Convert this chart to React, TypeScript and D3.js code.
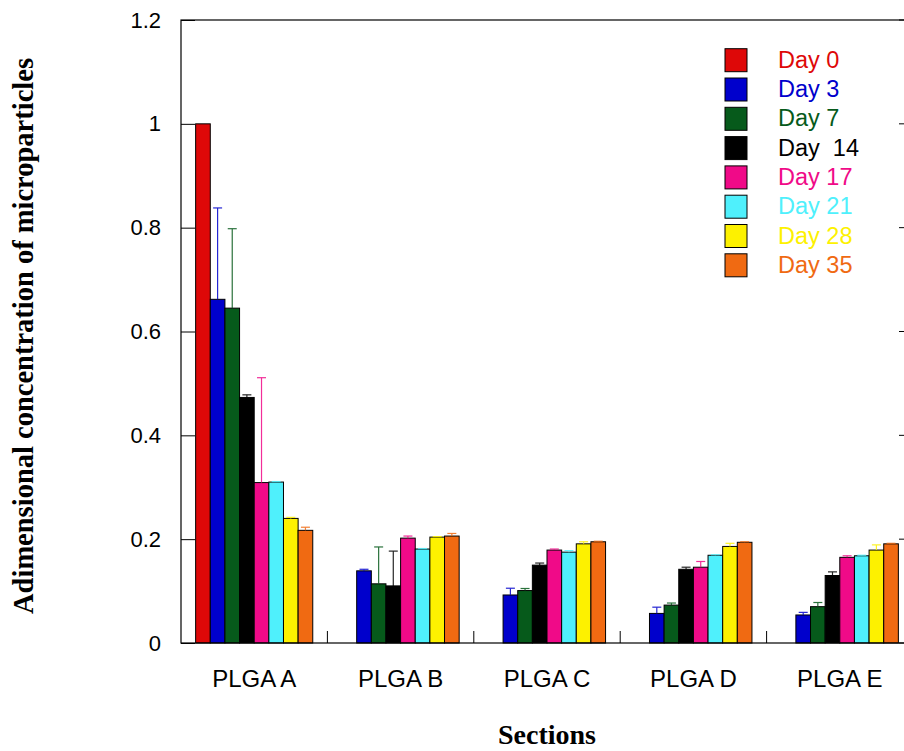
import React, { useEffect, useRef } from 'react';
import * as d3 from 'd3';

// sections on the x axis
const sections = ['PLGA A', 'PLGA B', 'PLGA C', 'PLGA D', 'PLGA E'];

// legend labels (note the double space in "Day  14", as in the original)
const days = ['Day 0', 'Day 3', 'Day 7', 'Day  14', 'Day 17', 'Day 21', 'Day 28', 'Day 35'];
const dayColors = ['#de0808', '#0000cc', '#065a1b', '#000000', '#f00a88', '#4ff0fc', '#fdf100', '#f06a12'];

// bar heights per day, one value per section (null = no bar)
const day0 = [1.0, null, null, null, null];
const day3 = [0.662, 0.139, 0.0925, 0.057, 0.054];
const day7 = [0.645, 0.114, 0.101, 0.073, 0.070];
const day14 = [0.473, 0.110, 0.150, 0.142, 0.130];
const day17 = [0.309, 0.202, 0.179, 0.146, 0.165];
const day21 = [0.310, 0.181, 0.175, 0.169, 0.168];
const day28 = [0.240, 0.204, 0.191, 0.186, 0.179];
const day35 = [0.217, 0.206, 0.195, 0.194, 0.191];

// upper error bar lengths
const err0 = [0, 0, 0, 0, 0];
const err3 = [0.176, 0.003, 0.013, 0.012, 0.005];
const err7 = [0.153, 0.071, 0.004, 0.004, 0.008];
const err14 = [0.005, 0.067, 0.004, 0.004, 0.007];
const err17 = [0.202, 0.004, 0.002, 0.011, 0.003];
const err21 = [0.001, 0.001, 0.003, 0.001, 0.001];
const err28 = [0.002, 0.001, 0.004, 0.006, 0.010];
const err35 = [0.006, 0.005, 0.001, 0.001, 0.001];

const yTicks = [0, 0.2, 0.4, 0.6, 0.8, 1, 1.2];

const App = () => {
  const ref = useRef<SVGSVGElement>(null);

  useEffect(() => {
    const svg = d3.select(ref.current);
    svg.selectAll('*').remove();

    const W = 904, H = 751;
    const left = 181, right = 913, top = 20, bottom = 643;
    const sans = '"Liberation Sans", Arial, sans-serif';
    const serif = '"Liberation Serif", "Times New Roman", serif';

    const values = [day0, day3, day7, day14, day17, day21, day28, day35];
    const errors = [err0, err3, err7, err14, err17, err21, err28, err35];

    const x0 = d3.scaleBand().domain(sections).range([left, right]).paddingInner(0.2).paddingOuter(0.1);
    const x1 = d3.scaleBand().domain(days).range([0, x0.bandwidth()]);
    const y = d3.scaleLinear().domain([0, 1.2]).range([bottom, top]);

    svg.attr('width', W).attr('height', H);

    const bars: { s: string; d: string; v: number; e: number; c: string }[] = [];
    days.forEach((d, i) => {
      sections.forEach((s, j) => {
        const v = values[i][j];
        if (v == null) return;
        bars.push({ s, d, v, e: errors[i][j], c: dayColors[i] });
      });
    });

    // bars
    svg.append('g')
      .selectAll('rect')
      .data(bars)
      .enter()
      .append('rect')
      .attr('x', b => x0(b.s)! + x1(b.d)!)
      .attr('y', b => y(b.v))
      .attr('width', x1.bandwidth())
      .attr('height', b => bottom - y(b.v))
      .attr('fill', b => b.c)
      .attr('stroke', '#000')
      .attr('stroke-width', 1);

    // error bars
    const eb = svg.append('g')
      .selectAll('g')
      .data(bars.filter(b => b.e > 0))
      .enter()
      .append('g')
      .attr('stroke', b => b.c)
      .attr('stroke-width', 1.2)
      .attr('opacity', 0.85);
    eb.append('line')
      .attr('x1', b => x0(b.s)! + x1(b.d)! + x1.bandwidth() / 2)
      .attr('x2', b => x0(b.s)! + x1(b.d)! + x1.bandwidth() / 2)
      .attr('y1', b => y(b.v))
      .attr('y2', b => y(b.v + b.e));
    eb.append('line')
      .attr('x1', b => x0(b.s)! + x1(b.d)! + x1.bandwidth() / 2 - 4.5)
      .attr('x2', b => x0(b.s)! + x1(b.d)! + x1.bandwidth() / 2 + 4.5)
      .attr('y1', b => y(b.v + b.e))
      .attr('y2', b => y(b.v + b.e));

    // frame
    svg.append('rect')
      .attr('x', left).attr('y', top)
      .attr('width', right - left).attr('height', bottom - top)
      .attr('fill', 'none').attr('stroke', '#000').attr('stroke-width', 1.2);

    // left axis, ticks inward
    const yAxis = svg.append('g')
      .attr('transform', `translate(${left},0)`)
      .call(d3.axisLeft(y).tickValues(yTicks).tickSizeInner(-14).tickSizeOuter(0).tickPadding(20).tickFormat(d3.format('~g')));
    yAxis.select('.domain').remove();
    yAxis.selectAll('text').attr('font-size', 22).attr('font-family', sans).attr('fill', '#000');

    // right-side inward ticks
    svg.append('g')
      .selectAll('line')
      .data(yTicks)
      .enter()
      .append('line')
      .attr('x1', right).attr('x2', right - 14)
      .attr('y1', d => y(d)).attr('y2', d => y(d))
      .attr('stroke', '#000');

    // bottom ticks between sections
    svg.append('g')
      .selectAll('line')
      .data(sections.slice(1))
      .enter()
      .append('line')
      .attr('x1', s => x0(s)! - x0.step() * 0.1)
      .attr('x2', s => x0(s)! - x0.step() * 0.1)
      .attr('y1', bottom).attr('y2', bottom - 12)
      .attr('stroke', '#000');

    // section labels
    svg.append('g')
      .selectAll('text')
      .data(sections)
      .enter()
      .append('text')
      .attr('x', s => x0(s)! + x0.bandwidth() / 2)
      .attr('y', 687)
      .attr('text-anchor', 'middle')
      .attr('font-family', sans)
      .attr('font-size', 24)
      .text(s => s);

    // legend
    const lg = svg.append('g')
      .selectAll('g')
      .data(days)
      .enter()
      .append('g')
      .attr('transform', (d, i) => `translate(725,${48.7 + i * 29.3})`);
    lg.append('rect')
      .attr('width', 22).attr('height', 23)
      .attr('fill', (d, i) => dayColors[i])
      .attr('stroke', '#000').attr('stroke-width', 1);
    lg.append('text')
      .attr('x', 53)
      .attr('y', 19)
      .attr('font-family', sans)
      .attr('font-size', 23.5)
      .attr('fill', (d, i) => dayColors[i])
      .style('white-space', 'pre')
      .text(d => d);

    // axis titles
    svg.append('text')
      .attr('transform', `translate(33,336) rotate(-90)`)
      .attr('text-anchor', 'middle')
      .attr('font-family', serif)
      .attr('font-weight', 'bold')
      .attr('font-size', 28.5)
      .text('Adimensional concentration of microparticles');

    svg.append('text')
      .attr('x', 547)
      .attr('y', 744)
      .attr('text-anchor', 'middle')
      .attr('font-family', serif)
      .attr('font-weight', 'bold')
      .attr('font-size', 28)
      .text('Sections');
  }, []);

  return (
    <svg ref={ref} style={{ position: 'absolute', left: 0, top: 0, background: '#fff' }}></svg>
  );
};

export default App;
